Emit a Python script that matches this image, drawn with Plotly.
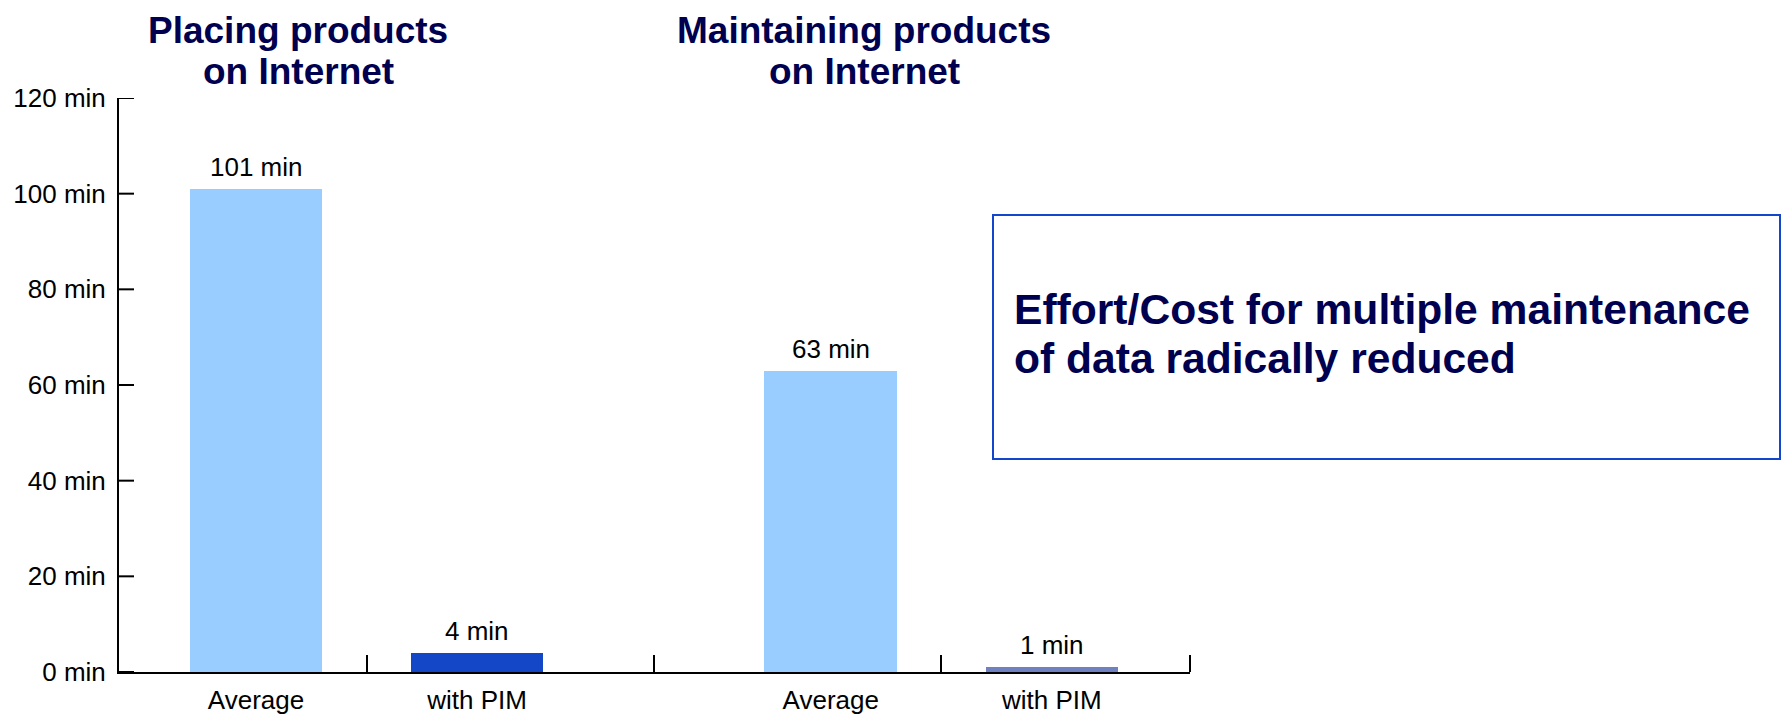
import plotly.graph_objects as go

# Values (minutes per product)
group_titles = [["Placing products", "on Internet"], ["Maintaining products", "on Internet"]]
bar_labels = ["Average", "with PIM"]
minutes = [[101, 4], [63, 1]]
bar_colors = [["#99CCFF", "#1446C8"], ["#99CCFF", "#6F82BF"]]
y_ticks = [0, 20, 40, 60, 80, 100, 120]
message_lines = ["Effort/Cost for multiple maintenance", "of data radically reduced"]

FONT = "Liberation Sans, Arial, Helvetica, sans-serif"
NAVY = "#000050"
GROUP_STEP = 2.6
BAR_WIDTH = 0.6

# Plot-area frame in pixels
W, H = 1782, 717
PL, PR, PT, PB = 119, 1190, 98, 672


def px(x):
    return (x - PL) / (PR - PL)


def py(y):
    return (PB - y) / (PB - PT)


xs, ys, cols, ticktext = [], [], [], []
for g, vals in enumerate(minutes):
    for i, v in enumerate(vals):
        xs.append(g * GROUP_STEP + i)
        ys.append(v)
        cols.append(bar_colors[g][i])
        ticktext.append(bar_labels[i])

x_range = [-0.62, xs[-1] + 0.625]
separators = [(a + b) / 2 for a, b in zip(xs[:-1], xs[1:])] + [x_range[1]]

fig = go.Figure(
    go.Bar(
        x=xs,
        y=ys,
        width=BAR_WIDTH,
        marker=dict(color=cols, line=dict(width=0)),
        hoverinfo="skip",
    )
)

# Value labels above the bars
for x, v in zip(xs, ys):
    fig.add_annotation(
        x=x, y=v, xref="x", yref="y", text=f"{v} min", showarrow=False,
        yanchor="middle", yshift=22, font=dict(family=FONT, size=26, color="#000000"),
    )

# Group headings
for g, lines in enumerate(group_titles):
    cx = 298 if g == 0 else 864
    for k, line in enumerate(lines):
        fig.add_annotation(
            x=px(cx), y=py(30 + 42 * k), xref="paper", yref="paper",
            text=f"<b>{line}</b>", showarrow=False, xanchor="center", yanchor="middle",
            font=dict(family=FONT, size=37, color=NAVY),
        )

# Message box
fig.add_shape(
    type="rect", xref="paper", yref="paper",
    x0=px(993), x1=px(1780), y0=py(459), y1=py(215),
    line=dict(color="#1446CC", width=2), fillcolor="rgba(0,0,0,0)",
)
for k, line in enumerate(message_lines):
    fig.add_annotation(
        x=px(1012), y=py(309 + 49 * k), xref="paper", yref="paper",
        text=f"<b>{line}</b>", showarrow=False, xanchor="left", yanchor="middle",
        font=dict(family=FONT, size=42.6, color=NAVY),
    )

# Y-axis tick marks drawn on the inner side of the axis line
for t in y_ticks:
    fig.add_shape(
        type="line", xref="paper", yref="y",
        x0=0, x1=px(PL + 15), y0=t, y1=t,
        line=dict(color="#000000", width=2),
    )

fig.update_layout(
    width=W, height=H,
    margin=dict(l=PL, r=W - PR, t=PT, b=H - PB, pad=0, autoexpand=False),
    paper_bgcolor="white", plot_bgcolor="white",
    showlegend=False, bargap=0,
    font=dict(family=FONT, size=26, color="#000000"),
)
fig.update_xaxes(
    range=x_range, showgrid=False, zeroline=False, automargin=False,
    showline=True, linecolor="#000000", linewidth=2,
    tickmode="array", tickvals=xs, ticktext=ticktext, ticks="",
    ticklabelstandoff=4,
    tickfont=dict(family=FONT, size=26, color="#000000"),
    minor=dict(tickmode="array", tickvals=separators, ticks="inside",
               ticklen=17, tickwidth=2, tickcolor="#000000", showgrid=False),
    fixedrange=True,
)
fig.update_yaxes(
    range=[0, 120], showgrid=False, zeroline=False, automargin=False,
    showline=True, linecolor="#000000", linewidth=2,
    tickmode="array", tickvals=y_ticks, ticktext=[f"{t} min" for t in y_ticks],
    ticks="", ticklabelstandoff=6,
    tickfont=dict(family=FONT, size=26, color="#000000"),
    fixedrange=True,
)

fig.write_html("out.html")
